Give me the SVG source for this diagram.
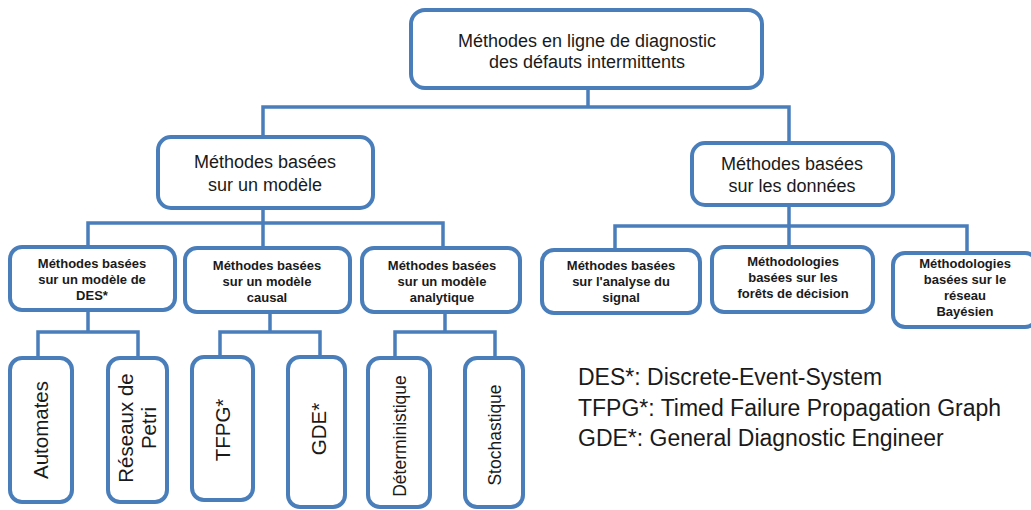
<svg xmlns="http://www.w3.org/2000/svg" width="1031" height="510" viewBox="0 0 1031 510">
  <style>
    .box { fill: #ffffff; stroke: #4A7EBB; stroke-width: 4; }
    .conn { fill: none; stroke: #4A7EBB; stroke-width: 3.5; stroke-linecap: square; }
    .t { font-family: "Liberation Sans", Arial, sans-serif; fill: #1a1a1a; text-anchor: middle; }
    .l1 { font-size: 18px; }
    .l3 { font-size: 13px; font-weight: bold; }
    .l4 { font-size: 20.5px; }
    .l4s { font-size: 17.5px; }
    .leg { font-family: "Liberation Sans", Arial, sans-serif; fill: #1a1a1a; font-size: 23px; }
  </style>
  <rect width="1031" height="510" fill="#ffffff"/>

  <g id="connectors">
    <path class="conn" d="M588 88 V107 M263 107 H789 M263 107 V137 M789 107 V143"/>
    <path class="conn" d="M263 208 V223 M88 223 H443 M88 223 V247 M263 223 V248 M443 223 V248"/>
    <path class="conn" d="M789 205 V226 M615 226 H967 M615 226 V250 M789 226 V247 M967 226 V253"/>
    <path class="conn" d="M88 310 V332 M38 332 H138 M38 332 V358 M138 332 V358"/>
    <path class="conn" d="M270 312 V332 M220 332 H320 M220 332 V357 M320 332 V357"/>
    <path class="conn" d="M445 312 V332 M395 332 H495 M395 332 V358 M495 332 V358"/>
  </g>

  <g id="root">
    <rect class="box" x="411" y="10" width="351" height="78" rx="14"/>
    <text class="t l1" x="587" y="47">Méthodes en ligne de diagnostic</text>
    <text class="t l1" x="587" y="68">des défauts intermittents</text>
  </g>

  <g id="model">
    <rect class="box" x="158" y="137" width="215" height="71" rx="13"/>
    <text class="t l1" x="265" y="168">Méthodes basées</text>
    <text class="t l1" x="265" y="191">sur un modèle</text>
  </g>

  <g id="data">
    <rect class="box" x="692" y="143" width="201" height="62" rx="13"/>
    <text class="t l1" x="792" y="170">Méthodes basées</text>
    <text class="t l1" x="792" y="192">sur les données</text>
  </g>

  <g id="des">
    <rect class="box" x="10" y="247" width="165" height="63" rx="12"/>
    <text class="t l3" x="92" y="268">Méthodes basées</text>
    <text class="t l3" x="92" y="284">sur un modèle de</text>
    <text class="t l3" x="92" y="300">DES*</text>
  </g>

  <g id="causal">
    <rect class="box" x="185" y="248" width="165" height="64" rx="12"/>
    <text class="t l3" x="267" y="270">Méthodes basées</text>
    <text class="t l3" x="267" y="286">sur un modèle</text>
    <text class="t l3" x="267" y="302">causal</text>
  </g>

  <g id="analytique">
    <rect class="box" x="362" y="248" width="158" height="64" rx="12"/>
    <text class="t l3" x="442" y="270">Méthodes basées</text>
    <text class="t l3" x="442" y="286">sur un modèle</text>
    <text class="t l3" x="442" y="302">analytique</text>
  </g>

  <g id="signal">
    <rect class="box" x="542" y="250" width="158" height="63" rx="12"/>
    <text class="t l3" x="621" y="270">Méthodes basées</text>
    <text class="t l3" x="621" y="286">sur l'analyse du</text>
    <text class="t l3" x="621" y="302">signal</text>
  </g>

  <g id="forets">
    <rect class="box" x="712" y="247" width="161" height="65" rx="12"/>
    <text class="t l3" x="793" y="266">Méthodologies</text>
    <text class="t l3" x="793" y="282">basées sur les</text>
    <text class="t l3" x="793" y="298">forêts de décision</text>
  </g>

  <g id="bayesien">
    <rect class="box" x="893" y="253" width="144" height="74" rx="12"/>
    <text class="t l3" x="965" y="268">Méthodologies</text>
    <text class="t l3" x="965" y="284">basées sur le</text>
    <text class="t l3" x="965" y="300">réseau</text>
    <text class="t l3" x="965" y="316">Bayésien</text>
  </g>

  <g id="automates">
    <rect class="box" x="10" y="358" width="62" height="144" rx="12"/>
    <text class="t l4" transform="translate(41,430) rotate(-90)" y="7">Automates</text>
  </g>

  <g id="petri">
    <rect class="box" x="108" y="358" width="59" height="144" rx="12"/>
    <text class="t l4" transform="translate(137,428) rotate(-90)" y="-4">Réseaux de</text>
    <text class="t l4" transform="translate(137,428) rotate(-90)" y="19">Petri</text>
  </g>

  <g id="tfpg">
    <rect class="box" x="192" y="357" width="61" height="143" rx="12"/>
    <text class="t l4" transform="translate(223,430) rotate(-90)" y="7">TFPG*</text>
  </g>

  <g id="gde">
    <rect class="box" x="288" y="357" width="57" height="150" rx="12"/>
    <text class="t l4" transform="translate(319,429) rotate(-90)" y="7">GDE*</text>
  </g>

  <g id="deterministique">
    <rect class="box" x="368" y="358" width="62" height="149" rx="12"/>
    <text class="t l4s" transform="translate(400,436) rotate(-90)" y="6">Déterministique</text>
  </g>

  <g id="stochastique">
    <rect class="box" x="465" y="358" width="58" height="149" rx="12"/>
    <text class="t l4s" transform="translate(495,435) rotate(-90)" y="6">Stochastique</text>
  </g>

  <g id="legend">
    <text class="leg" x="578" y="385">DES*: Discrete-Event-System</text>
    <text class="leg" x="578" y="416">TFPG*: Timed Failure Propagation Graph</text>
    <text class="leg" x="578" y="446">GDE*: General Diagnostic Engineer</text>
  </g>
</svg>
